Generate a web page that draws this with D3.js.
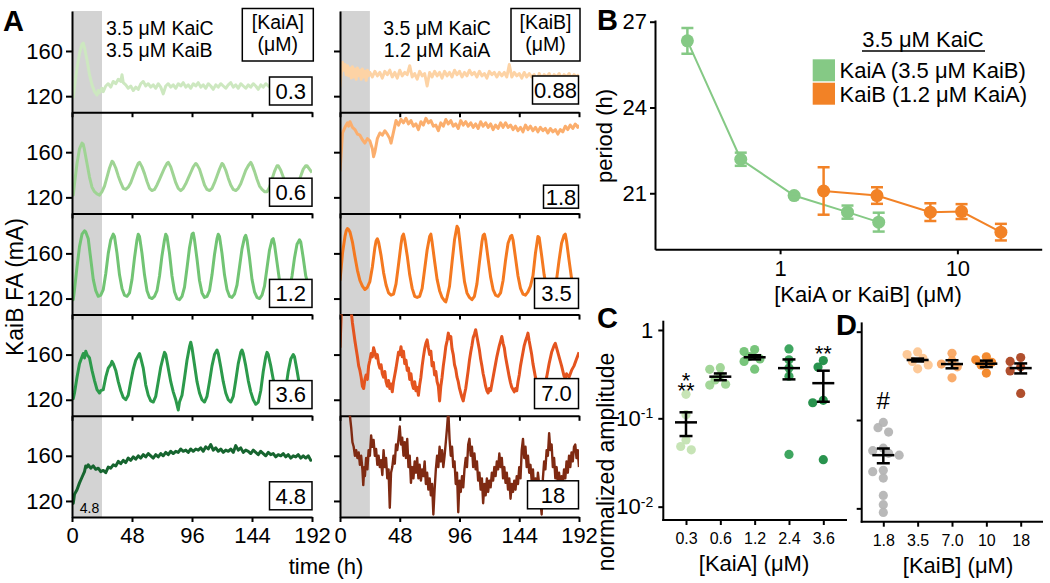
<!DOCTYPE html>
<html><head><meta charset="utf-8">
<script src="https://cdn.jsdelivr.net/npm/d3@7"></script>
<style>body{margin:0;background:#fff} svg text{font-family:"Liberation Sans",Arial,Helvetica,sans-serif;fill:#000}</style>
</head><body><svg id="c" width="1050" height="583"></svg>
<script>
// ---------------- DATA ----------------
const timeTicks = [0, 48, 96, 144, 192];
const faTicks = [120, 160];
const kaiALabels = ["0.3", "0.6", "1.2", "3.6", "4.8"];
const kaiBLabels = ["0.88", "1.8", "3.5", "7.0", "18"];
const kaiAColors = ["#cde8c0", "#9fd494", "#72c474", "#2c9a4b", "#16652f"];
const kaiBColors = ["#fdd3a5", "#fbae6d", "#f47920", "#e4541f", "#7f2a12"];

// KaiB FA traces [time h, mA]
const traceKaiA03 = [[0,122],[1,119],[2,128],[4,145],[6,158],[8,166],[9,167],[10,163],[12,152],[14,139],[16,130],[18,124],[20,121],[21,125],[22,123],[24,127],[25,124],[27,129],[29,131],[31,128],[33,133],[35,131],[37,135],[39,133],[40,139],[41,132],[43,130],[45,127],[47,129],[49,125],[51,128],[53,126],[55,131],[57,133],[59,129],[61,131],[63,128],[65,130],[67,127],[69,131],[71,128],[73,122],[75,129],[77,131],[79,128],[81,130],[83,127],[85,131],[87,129],[89,132],[91,128],[93,130],[95,127],[97,131],[99,129],[101,132],[103,128],[105,130],[107,127],[109,131],[111,129],[113,126],[115,130],[117,128],[119,131],[121,129],[123,127],[125,130],[127,132],[129,128],[131,130],[133,127],[135,131],[137,129],[139,127],[141,130],[143,128],[145,131],[147,129],[149,126],[151,130],[153,128],[155,131],[157,129],[159,127],[161,130],[163,128],[165,131],[167,128],[169,130],[171,127],[173,129],[175,131],[177,128],[179,130],[181,127],[183,129],[185,131],[187,128],[189,130],[191,129],[192,130]];
const traceKaiA06 = [[0,126],[1,122],[2,132],[4,150],[6,163],[8,168],[9,167],[10,162],[12,150],[14,138],[16,129],[18,125],[20,123],[22,122],[24,125],[26,130],[28,138],[30,146],[32,152],[33,151],[35,146],[37,139],[39,133],[41,128],[43,127],[45,129],[47,133],[49,139],[51,145],[53,150],[54,151],[56,147],[58,141],[60,134],[62,128],[64,126],[66,127],[68,131],[70,136],[72,141],[74,146],[76,150],[77,151],[79,147],[81,140],[83,133],[85,128],[87,126],[89,128],[91,132],[93,137],[95,142],[97,147],[99,150],[100,149],[102,145],[104,138],[106,131],[108,127],[110,126],[112,128],[114,133],[116,139],[118,145],[120,150],[121,149],[123,144],[125,137],[127,131],[129,127],[131,126],[133,128],[135,132],[137,138],[139,144],[141,148],[143,151],[144,149],[146,143],[148,136],[150,130],[152,127],[154,125],[156,125],[158,129],[160,136],[162,143],[164,148],[165,148],[167,144],[169,138],[171,132],[173,128],[175,126],[177,125],[179,128],[181,133],[183,139],[185,145],[187,148],[188,148],[190,145],[192,142]];
const traceKaiA12 = [[0,128],[1,119],[2,128],[4,148],[6,166],[8,177],[10,180],[11,179],[13,173],[15,155],[17,137],[19,127],[21,122],[23,123],[25,128],[27,142],[29,160],[31,172],[33,177],[34,175],[36,160],[38,141],[40,129],[42,123],[44,122],[46,125],[48,137],[50,156],[52,172],[53,177],[54,175],[56,160],[58,141],[60,127],[62,121],[64,120],[66,122],[68,127],[70,140],[72,158],[74,172],[75,177],[76,175],[78,160],[80,140],[82,126],[84,120],[86,119],[88,122],[90,130],[92,147],[94,165],[96,177],[97,178],[98,172],[100,155],[102,136],[104,125],[106,121],[108,122],[110,127],[112,141],[114,159],[116,173],[117,177],[118,175],[120,160],[122,141],[124,128],[126,122],[128,121],[130,124],[132,132],[134,148],[136,164],[138,174],[139,176],[140,172],[142,156],[144,137],[146,126],[148,121],[150,120],[152,123],[154,131],[156,147],[158,163],[160,172],[161,173],[162,168],[164,152],[166,136],[168,127],[170,123],[172,123],[174,128],[176,140],[178,156],[180,168],[182,172],[183,170],[185,156],[187,140],[189,132],[191,129],[192,129]];
const traceKaiA36 = [[0,124],[1,121],[2,126],[4,140],[6,152],[8,158],[9,161],[10,157],[11,163],[12,160],[14,157],[16,146],[18,137],[20,129],[22,126],[23,128],[25,129],[27,140],[29,148],[31,151],[32,154],[33,152],[35,146],[37,136],[39,128],[41,122],[43,120],[45,124],[47,136],[49,147],[51,155],[53,159],[54,161],[55,157],[57,148],[59,133],[61,124],[63,119],[65,118],[67,123],[69,136],[71,149],[73,158],[74,162],[75,160],[77,148],[79,136],[81,127],[83,120],[85,111],[86,118],[88,124],[90,139],[92,155],[94,167],[95,171],[96,166],[98,151],[100,136],[102,126],[104,120],[106,118],[108,123],[110,136],[112,150],[114,160],[116,164],[117,161],[119,149],[121,136],[123,126],[125,120],[127,118],[129,123],[131,137],[133,152],[135,162],[136,164],[137,161],[139,150],[141,137],[143,127],[145,120],[147,116],[149,118],[151,128],[153,145],[155,158],[156,162],[157,160],[159,150],[161,138],[163,129],[165,122],[167,119],[169,121],[171,130],[173,145],[175,156],[177,160],[178,158],[180,146],[182,133],[184,125],[186,121],[188,120],[190,123],[192,126]];
const traceKaiA48 = [[0,121],[1,118],[2,126],[4,130],[6,136],[8,141],[10,146],[11,151],[12,150],[13,152],[15,149],[17,151],[19,148],[21,149],[23,146],[25,147],[27,145],[29,150],[31,149],[33,152],[35,151],[37,155],[39,153],[41,156],[43,154],[45,158],[47,156],[49,159],[51,157],[53,160],[55,158],[57,161],[59,159],[61,162],[63,160],[65,158],[67,161],[69,159],[71,162],[73,160],[75,163],[77,161],[79,164],[81,162],[83,164],[85,163],[87,166],[89,164],[91,165],[93,163],[95,166],[97,164],[99,166],[101,165],[103,167],[105,164],[107,168],[109,166],[111,170],[113,165],[115,167],[117,164],[119,166],[121,163],[123,165],[125,164],[127,166],[129,163],[131,169],[133,165],[135,167],[137,163],[139,165],[141,164],[143,162],[145,165],[147,163],[149,161],[151,164],[153,162],[155,160],[157,163],[159,161],[161,162],[163,159],[165,161],[167,160],[169,162],[171,159],[173,161],[175,158],[177,160],[179,159],[181,161],[183,158],[185,160],[187,158],[189,160],[191,156],[192,157]];

const traceKaiB088 = [[0,128],[1,140],[2,150],[3,143],[4,148],[5,139],[6,147],[7,138],[8,145],[9,136],[10,146],[11,137],[12,144],[13,135],[14,145],[15,138],[16,143],[17,135],[18,144],[19,137],[20,142],[21,134],[22,143],[23,138],[24,141],[26,137],[28,142],[30,138],[32,141],[34,136],[36,142],[38,139],[40,143],[42,137],[44,141],[46,136],[48,143],[50,138],[52,141],[54,139],[56,147],[58,137],[60,140],[62,135],[64,142],[66,138],[68,140],[70,129],[72,141],[74,137],[76,142],[78,138],[80,141],[82,136],[84,142],[86,138],[88,141],[90,137],[92,143],[94,139],[96,142],[98,137],[100,141],[102,138],[104,143],[106,139],[108,141],[110,137],[112,142],[114,138],[116,140],[118,136],[120,142],[122,139],[124,141],[126,137],[128,141],[130,138],[132,141],[134,137],[136,148],[138,137],[140,141],[142,138],[144,140],[146,136],[148,141],[150,137],[152,140],[154,137],[156,139],[158,131],[160,140],[162,136],[164,139],[166,137],[168,140],[170,136],[172,139],[174,137],[176,140],[178,136],[180,139],[182,137],[184,140],[186,136],[188,139],[190,137],[192,139]];
const traceKaiB18 = [[0,143],[1,160],[2,177],[4,182],[6,186],[7,183],[8,187],[10,182],[12,180],[14,176],[16,175],[18,171],[20,168],[22,172],[24,170],[26,163],[27,156],[28,160],[30,172],[32,177],[34,175],[36,179],[38,176],[40,172],[41,168],[43,178],[45,188],[47,184],[49,189],[51,186],[53,190],[55,185],[57,188],[59,183],[61,185],[63,180],[65,187],[67,184],[69,190],[71,186],[73,188],[75,183],[77,184],[79,179],[81,186],[83,183],[85,189],[87,185],[89,188],[91,183],[93,185],[95,181],[97,188],[99,184],[101,187],[103,183],[105,186],[107,182],[109,185],[111,181],[113,187],[115,183],[117,186],[119,182],[121,185],[123,180],[125,184],[127,181],[129,186],[131,182],[133,186],[135,182],[137,184],[139,180],[141,183],[143,179],[145,182],[147,178],[149,184],[151,180],[153,183],[155,179],[157,182],[159,178],[161,182],[163,179],[165,181],[167,177],[169,181],[171,178],[173,180],[175,176],[177,180],[179,178],[181,183],[183,180],[185,184],[187,181],[189,185],[191,182],[192,184]];
const traceKaiB35 = [[0,136],[1,148],[2,160],[4,175],[5,180],[6,182],[7,181],[8,179],[10,170],[12,157],[14,145],[16,136],[18,131],[20,128],[22,130],[24,135],[26,148],[28,165],[29,171],[30,173],[31,170],[33,158],[35,143],[37,132],[39,125],[41,123],[43,124],[45,133],[47,150],[49,168],[50,175],[51,177],[52,172],[54,158],[56,141],[58,129],[60,122],[62,121],[64,122],[66,129],[68,146],[70,163],[72,175],[73,177],[74,170],[76,153],[78,137],[80,127],[82,121],[84,118],[85,117],[86,121],[88,131],[90,152],[92,172],[94,184],[95,182],[96,173],[98,153],[100,135],[102,125],[104,121],[106,119],[108,122],[110,133],[112,152],[114,170],[115,176],[116,177],[117,172],[119,155],[121,139],[123,128],[125,123],[127,122],[129,125],[131,136],[133,154],[135,169],[137,175],[138,176],[139,172],[141,156],[143,140],[145,129],[147,124],[149,123],[151,126],[153,131],[155,140],[157,160],[159,175],[160,174],[162,158],[164,141],[166,130],[168,124],[170,123],[172,126],[174,137],[176,154],[178,169],[180,176],[181,177],[182,171],[184,154],[186,138],[188,129],[190,125],[192,124]];
const traceKaiB70 = [[0,166],[1,196],[2,200],[4,200],[6,200],[8,200],[9,198],[10,188],[11,180],[12,172],[13,165],[14,158],[15,150],[16,146],[17,140],[18,132],[19,130],[20,138],[21,142],[22,138],[23,150],[24,155],[25,161],[26,158],[27,166],[28,162],[29,157],[30,160],[31,152],[32,148],[33,151],[34,143],[35,140],[36,145],[37,136],[38,132],[39,137],[40,130],[41,134],[42,127],[43,136],[44,142],[45,148],[46,155],[47,162],[48,160],[49,167],[50,158],[51,163],[52,152],[53,155],[54,146],[55,148],[56,138],[57,143],[58,134],[59,130],[60,136],[61,128],[62,131],[63,124],[64,133],[65,140],[66,150],[67,158],[68,165],[69,170],[70,173],[71,166],[72,160],[73,163],[74,150],[75,153],[76,142],[77,145],[78,136],[79,132],[80,119],[81,132],[82,140],[83,150],[84,158],[85,167],[86,172],[87,179],[88,174],[89,176],[90,165],[91,160],[92,151],[93,147],[94,140],[95,136],[96,130],[97,126],[98,122],[99,119],[100,125],[101,130],[102,138],[103,146],[104,155],[105,162],[106,168],[107,175],[108,178],[109,182],[110,176],[111,170],[112,164],[113,156],[114,150],[115,143],[116,138],[117,132],[118,128],[119,126],[120,130],[121,128],[122,134],[123,140],[124,146],[125,152],[126,158],[127,163],[128,168],[129,172],[130,176],[131,170],[132,166],[133,158],[134,152],[135,146],[136,140],[137,135],[138,131],[139,129],[140,127],[141,130],[142,128],[143,136],[144,142],[145,150],[146,156],[147,162],[148,168],[149,172],[150,175],[151,179],[152,172],[153,166],[154,160],[155,152],[156,146],[157,140],[158,136],[159,130],[160,128],[162,125],[164,130],[166,140],[168,152],[170,162],[172,168],[173,170],[174,166],[176,158],[178,150],[180,141],[181,139],[182,143],[184,140],[186,146],[188,150],[190,156],[191,159],[192,162]];
const traceKaiB180 = [[0,205],[4,205],[7,200],[8,195],[9,185],[10,172],[11,168],[12,160],[13,165],[14,158],[15,163],[16,152],[17,160],[18,148],[18.7,134],[19.5,150],[20,142],[21,158],[22,148],[23,165],[24,160],[25,178],[26,168],[27,174],[28,160],[29,166],[30,152],[31,160],[32,150],[33,156],[34,143],[35,165],[36,150],[37,158],[38,140],[39,148],[40,114],[41,145],[42,150],[43,160],[44,153],[45,170],[46,165],[47,175],[48,186],[49,170],[50,176],[51,160],[52,172],[53,158],[54,175],[55,150],[56,160],[57,136],[58,150],[59,140],[60,155],[61,145],[62,158],[63,140],[64,152],[65,138],[66,148],[67,142],[68,155],[69,135],[70,145],[71,130],[72,140],[73,125],[74,135],[75,108],[76,130],[77,148],[78,160],[79,150],[80,168],[81,155],[82,165],[83,150],[84,160],[85,172],[86,185],[87,200],[88,175],[89,160],[90,168],[91,150],[92,155],[93,135],[94,145],[95,110],[96,138],[97,128],[98,142],[99,132],[100,148],[101,158],[102,150],[103,170],[104,175],[105,160],[106,168],[107,150],[108,162],[109,148],[110,155],[111,138],[112,145],[113,130],[114,140],[115,118],[116,135],[117,125],[118,140],[119,128],[120,138],[121,132],[122,145],[123,138],[124,150],[125,142],[126,155],[127,148],[128,162],[129,150],[130,158],[131,140],[132,150],[133,136],[134,145],[135,130],[136,140],[137,122],[138,135],[139,128],[140,138],[141,130],[142,142],[143,135],[144,150],[145,140],[146,165],[147,175],[148,158],[149,168],[150,150],[151,160],[152,145],[153,152],[154,138],[155,148],[156,130],[157,140],[158,128],[159,145],[160,135],[161,120],[162,108],[163,140],[164,155],[165,148],[166,165],[167,160],[168,180],[169,165],[170,170],[171,150],[172,158],[173,140],[174,150],[175,135],[176,145],[177,130],[178,142],[179,135],[180,148],[181,140],[182,155],[183,145],[184,160],[185,150],[186,163],[187,155],[188,168],[189,170],[190,158],[191,165],[192,150]];

// Panel B: period vs concentration
const periodKaiAConc = [0.3, 0.6, 1.2, 2.4, 3.6];
const periodKaiA = [26.33, 22.19, 20.92, 20.34, 19.99];
const periodKaiAErr = [0.45, 0.23, 0.05, 0.23, 0.33];
const periodKaiBConc = [1.76, 3.52, 7.04, 10.56, 17.6];
const periodKaiB = [21.08, 20.92, 20.34, 20.36, 19.64];
const periodKaiBErr = [0.83, 0.29, 0.31, 0.26, 0.29];
const periodTicks = [21, 24, 27];
const concTicks = [1, 10];

// Panel C: normalized amplitude vs [KaiA]
const ampKaiACats = ["0.3", "0.6", "1.2", "2.4", "3.6"];
const ampKaiAPoints = [
  [0.187, 0.11, 0.057, 0.048, 0.044],
  [0.374, 0.359, 0.31, 0.272, 0.243, 0.238],
  [0.60, 0.57, 0.50, 0.47, 0.44, 0.36],
  [0.61, 0.46, 0.37, 0.30, 0.039],
  [0.45, 0.38, 0.16, 0.15, 0.034]
];
const ampKaiAMean = [0.090, 0.296, 0.491, 0.37, 0.25];
const ampKaiASem = [0.027, 0.026, 0.027, 0.094, 0.096];
const ampKaiASig = ["***", "", "", "", "**"];
const ampKaiAColors = ["#c2e2b0", "#9ad38f", "#6cc070", "#2f9e52", "#178a3f"];

// Panel D: normalized amplitude vs [KaiB]
const ampKaiBCats = ["1.8", "3.5", "7.0", "10", "18"];
const ampKaiBPoints = [
  [0.094, 0.082, 0.073, 0.048, 0.045, 0.042, 0.040, 0.027, 0.026, 0.022, 0.014, 0.011, 0.009],
  [0.59, 0.55, 0.50, 0.46, 0.42, 0.38],
  [0.57, 0.47, 0.43, 0.40, 0.30],
  [0.52, 0.48, 0.45, 0.42, 0.34],
  [0.51, 0.46, 0.40, 0.36, 0.20]
];
const ampKaiBMean = [0.040, 0.478, 0.43, 0.434, 0.387];
const ampKaiBSem = [0.0076, 0.018, 0.045, 0.036, 0.05];
const ampKaiBSig = ["#", "", "", "", ""];
const ampKaiBColors = ["#b3b3b3", "#fdc48f", "#f9a45d", "#f2811f", "#a9401b"];
const ampTicks = [1, 0.1, 0.01];

// ---------------- DRAW ----------------
const svg = d3.select("#c");
const defs = svg.append("defs");
const TICK = 22, TITLE = 22;

function styleAxis(g, fs) {
  g.selectAll("path.domain").attr("stroke", "#000").attr("stroke-width", 2);
  g.selectAll(".tick line").attr("stroke", "#000").attr("stroke-width", 2);
  g.selectAll(".tick text").attr("font-size", fs).attr("font-family", null).attr("fill", "#000");
  g.attr("font-family", null);
}
function label(x, y, t, fs, anchor) {
  return svg.append("text").attr("x", x).attr("y", y).attr("font-size", fs)
    .attr("text-anchor", anchor || "start").text(t);
}

// ----- Panel A -----
const pTop0 = 11, pH = 101.2;
const columns = [
  {x0: 72, x1: 312, traces: [traceKaiA03, traceKaiA06, traceKaiA12, traceKaiA36, traceKaiA48],
   colors: kaiAColors, labels: kaiALabels, showY: true,
   boxes: [[42.5,66,28],[42.5,66,28],[42.5,66,28],[42.5,66,28],[42.5,66,28]], boxRight: 312},
  {x0: 340, x1: 579, traces: [traceKaiB088, traceKaiB18, traceKaiB35, traceKaiB70, traceKaiB180],
   colors: kaiBColors, labels: kaiBLabels, showY: false,
   boxes: [[46,65,28],[35,73,23],[44,65,30],[44,64,30],[51,65,28]], boxRight: 578.5}
];

columns.forEach((col, ci) => {
  const x = d3.scaleLinear([0, 192], [col.x0, col.x1]);
  svg.append("rect").attr("x", x(0)).attr("y", pTop0).attr("width", x(24) - x(0))
    .attr("height", pH * 5).attr("fill", "#d3d3d3");
  col.traces.forEach((tr, i) => {
    const top = pTop0 + pH * i;
    const y = d3.scaleLinear([105.8, 195.4], [top + pH, top]);
    const cid = `clip${ci}_${i}`;
    defs.append("clipPath").attr("id", cid).append("rect")
      .attr("x", col.x0).attr("y", top).attr("width", col.x1 - col.x0).attr("height", pH);
    svg.append("path").datum(tr).attr("clip-path", `url(#${cid})`)
      .attr("fill", "none").attr("stroke", col.colors[i])
      .attr("stroke-width", i === 4 && ci === 1 ? 2.4 : 3).attr("stroke-linejoin", "round")
      .attr("d", d3.line().x(d => x(d[0])).y(d => y(d[1])));
    const gy = svg.append("g").attr("transform", `translate(${col.x0},0)`)
      .call(d3.axisLeft(y).tickValues(faTicks).tickSize(6).tickSizeOuter(0).tickPadding(3)
        .tickFormat(col.showY ? d3.format("d") : () => ""));
    styleAxis(gy, TICK);
    const last = i === 4;
    const gx = svg.append("g").attr("transform", `translate(0,${top + pH})`)
      .call(d3.axisBottom(x).tickValues(timeTicks).tickSize(5).tickSizeOuter(0).tickPadding(5)
        .tickFormat(last ? d3.format("d") : () => ""));
    styleAxis(gx, TICK);
    const [bw, boff, bh] = col.boxes[i];
    svg.append("rect").attr("x", col.boxRight - bw).attr("y", top + boff).attr("width", bw).attr("height", bh)
      .attr("fill", "#fff").attr("stroke", "#000").attr("stroke-width", 1.5);
    label(col.boxRight - bw / 2, top + boff + bh / 2 + 7.8, col.labels[i], TICK, "middle");
  });
});
label(89.5, 513, "4.8", 14, "middle");

// header boxes
[[242.3, 71, "[KaiA]"], [511, 69, "[KaiB]"]].forEach(([bx, bw, t]) => {
  svg.append("rect").attr("x", bx).attr("y", 8.5).attr("width", bw).attr("height", 52.5)
    .attr("fill", "#fff").attr("stroke", "#000").attr("stroke-width", 1.5);
  label(bx + bw / 2, 28.5, t, 19.5, "middle");
  label(bx + bw / 2, 51, "(μM)", 19.5, "middle");
});
label(106, 35, "3.5 μM KaiC", 19.5, "start");
label(106, 57, "3.5 μM KaiB", 19.5, "start");
label(437, 35, "3.5 μM KaiC", 19.5, "middle");
label(437, 57, "1.2 μM KaiA", 19.5, "middle");
label(326, 574, "time (h)", TITLE, "middle");
svg.append("text").attr("transform", "translate(23,287) rotate(-90)").attr("text-anchor", "middle")
  .attr("font-size", 23).text("KaiB FA (mA)");

// ----- Panel B -----
const xB = d3.scaleLog([0.197, 29.9], [655, 1041.7]);
const yB = d3.scaleLinear([19.04, 27.06], [249.3, 20]);
const gBy = svg.append("g").attr("transform", "translate(655,0)")
  .call(d3.axisLeft(yB).tickValues(periodTicks).tickSize(5).tickSizeOuter(0).tickPadding(3).tickFormat(d3.format("d")));
styleAxis(gBy, TICK);
const gBx = svg.append("g").attr("transform", "translate(0,249.3)")
  .call(d3.axisBottom(xB).tickValues(concTicks).tickSize(5).tickSizeOuter(0).tickPadding(6).tickFormat(d3.format("d")));
styleAxis(gBx, TICK);
const seriesB = [
  {x: periodKaiAConc, y: periodKaiA, e: periodKaiAErr, c: "#85c985"},
  {x: periodKaiBConc, y: periodKaiB, e: periodKaiBErr, c: "#f28226"}
];
seriesB.forEach(s => {
  const pts = s.x.map((v, i) => ({x: v, y: s.y[i], e: s.e[i]}));
  svg.append("path").datum(pts).attr("fill", "none").attr("stroke", s.c).attr("stroke-width", 2)
    .attr("d", d3.line().x(d => xB(d.x)).y(d => yB(d.y)));
  const g = svg.append("g");
  g.selectAll("circle").data(pts).join("circle").attr("cx", d => xB(d.x)).attr("cy", d => yB(d.y))
    .attr("r", 6.5).attr("fill", s.c);
  pts.forEach(d => {
    const cx = xB(d.x), y1 = yB(d.y + d.e), y2 = yB(d.y - d.e);
    g.append("line").attr("x1", cx).attr("x2", cx).attr("y1", y1).attr("y2", y2).attr("stroke", s.c).attr("stroke-width", 2.5);
    [y1, y2].forEach(yy => g.append("line").attr("x1", cx - 6).attr("x2", cx + 6).attr("y1", yy).attr("y2", yy)
      .attr("stroke", s.c).attr("stroke-width", 2.5));
  });
});
label(923, 47, "3.5 μM KaiC", TITLE, "middle");
svg.append("line").attr("x1", 862).attr("x2", 985).attr("y1", 51).attr("y2", 51).attr("stroke", "#000").attr("stroke-width", 1.5);
[["KaiA (3.5 μM KaiB)", "#85c985", 59.3], ["KaiB (1.2 μM KaiA)", "#f28226", 82.7]].forEach(([t, c, yy]) => {
  svg.append("rect").attr("x", 812.7).attr("y", yy).attr("width", 22.3).attr("height", 22).attr("fill", c);
  label(839.5, yy + 19, t, 22, "start");
});
label(868, 302, "[KaiA or KaiB] (μM)", TITLE, "middle");
svg.append("text").attr("transform", "translate(612,136) rotate(-90)").attr("text-anchor", "middle")
  .attr("font-size", TITLE).text("period (h)");

// ----- Panels C & D -----
function dodge(vals, yS, cx, r) {
  const placed = [];
  vals.slice().sort((a, b) => b - a).forEach(v => {
    const yy = yS(v);
    for (const k of [0, -1, 1, -2, 2, -3, 3]) {
      const xx = cx + k * r * 1.15;
      if (placed.every(p => Math.hypot(p.x - xx, p.y - yy) >= r * 1.55)) { placed.push({x: xx, y: yy}); return; }
    }
    placed.push({x: cx, y: yy});
  });
  return placed;
}
const dotR = 4.6;
function ampPanel(cfg) {
  const y = d3.scaleLog([Math.pow(10, -2.151), Math.pow(10, 0.105)], [cfg.yBottom, cfg.yBottom - 199.3]);
  const x = d3.scalePoint(cfg.cats, cfg.xr);
  const gy = svg.append("g").attr("transform", `translate(${cfg.ax},0)`)
    .call(d3.axisLeft(y).tickValues(ampTicks).tickSize(5).tickSizeOuter(0).tickPadding(5).tickFormat(() => ""));
  styleAxis(gy, TICK);
  gy.selectAll("path.domain").remove();
  svg.append("line").attr("x1", cfg.ax).attr("x2", cfg.ax).attr("y1", cfg.yBottom - 199.3).attr("y2", cfg.yBottom + 1)
    .attr("stroke", "#000").attr("stroke-width", 2);
  svg.append("line").attr("x1", cfg.ax - 1).attr("x2", cfg.axEnd).attr("y1", cfg.yBottom).attr("y2", cfg.yBottom)
    .attr("stroke", "#000").attr("stroke-width", 2);
  if (cfg.yLabels) {
    gy.selectAll(".tick text").each(function (d) {
      const t = d3.select(this);
      if (d === 1) { t.text("1"); }
      else {
        t.text("10");
        t.append("tspan").attr("dy", "-0.55em").attr("font-size", 14).text(d === 0.1 ? "-1" : "-2");
      }
    });
  }
  const gx = svg.append("g").attr("transform", `translate(0,${cfg.yBottom})`)
    .call(d3.axisBottom(x).tickSize(5).tickPadding(8));
  styleAxis(gx, 16);
  gx.selectAll("path.domain").remove();
  cfg.cats.forEach((c, i) => {
    const cx = x(c);
    const pts = dodge(cfg.points[i], y, cx, dotR);
    svg.append("g").selectAll("circle").data(pts).join("circle")
      .attr("cx", d => d.x).attr("cy", d => d.y).attr("r", dotR)
      .attr("fill", cfg.colors[i]).attr("fill-opacity", 0.92);
    const m = cfg.mean[i], s = cfg.sem[i];
    const ym = y(m), y1 = y(m + s), y2 = y(m - s);
    const g = svg.append("g").attr("stroke", "#000").attr("stroke-width", 2.5);
    g.append("line").attr("x1", cx - 11).attr("x2", cx + 11).attr("y1", ym).attr("y2", ym);
    g.append("line").attr("x1", cx).attr("x2", cx).attr("y1", y1).attr("y2", y2);
    [y1, y2].forEach(yy => g.append("line").attr("x1", cx - 6.5).attr("x2", cx + 6.5).attr("y1", yy).attr("y2", yy));
    const sig = cfg.sig[i];
    if (sig) {
      const topY = y(d3.max(cfg.points[i])) - dotR;
      if (sig === "#") {
        label(cx, topY - 9, "#", 24, "middle");
      } else if (sig === "***") {
        label(cx, topY + 8, "**", 22, "middle");
        label(cx, topY - 2, "*", 22, "middle");
      } else {
        label(cx, topY + 5, sig, 22, "middle");
      }
    }
  });
  label(cfg.labX, cfg.labY, cfg.title, TITLE, "middle");
}
ampPanel({cats: ampKaiACats, points: ampKaiAPoints, mean: ampKaiAMean, sem: ampKaiASem, sig: ampKaiASig,
  colors: ampKaiAColors, xr: [686, 823.3], ax: 663.3, axEnd: 847, yBottom: 520, yLabels: true,
  title: "[KaiA] (μM)", labX: 754, labY: 571});
ampPanel({cats: ampKaiBCats, points: ampKaiBPoints, mean: ampKaiBMean, sem: ampKaiBSem, sig: ampKaiBSig,
  colors: ampKaiBColors, xr: [883.3, 1020.7], ax: 861.7, axEnd: 1043, yBottom: 521.7, yLabels: false,
  title: "[KaiB] (μM)", labX: 958, labY: 573});
svg.append("text").attr("transform", "translate(614,462) rotate(-90)").attr("text-anchor", "middle")
  .attr("font-size", 23).text("normalized amplitude");

// panel letters
[["A", 3, 31], ["B", 597, 30], ["C", 597, 328], ["D", 836, 335]].forEach(([t, x, y]) => {
  svg.append("text").attr("x", x).attr("y", y).attr("font-size", 29).attr("font-weight", "bold").text(t);
});
</script></body></html>
